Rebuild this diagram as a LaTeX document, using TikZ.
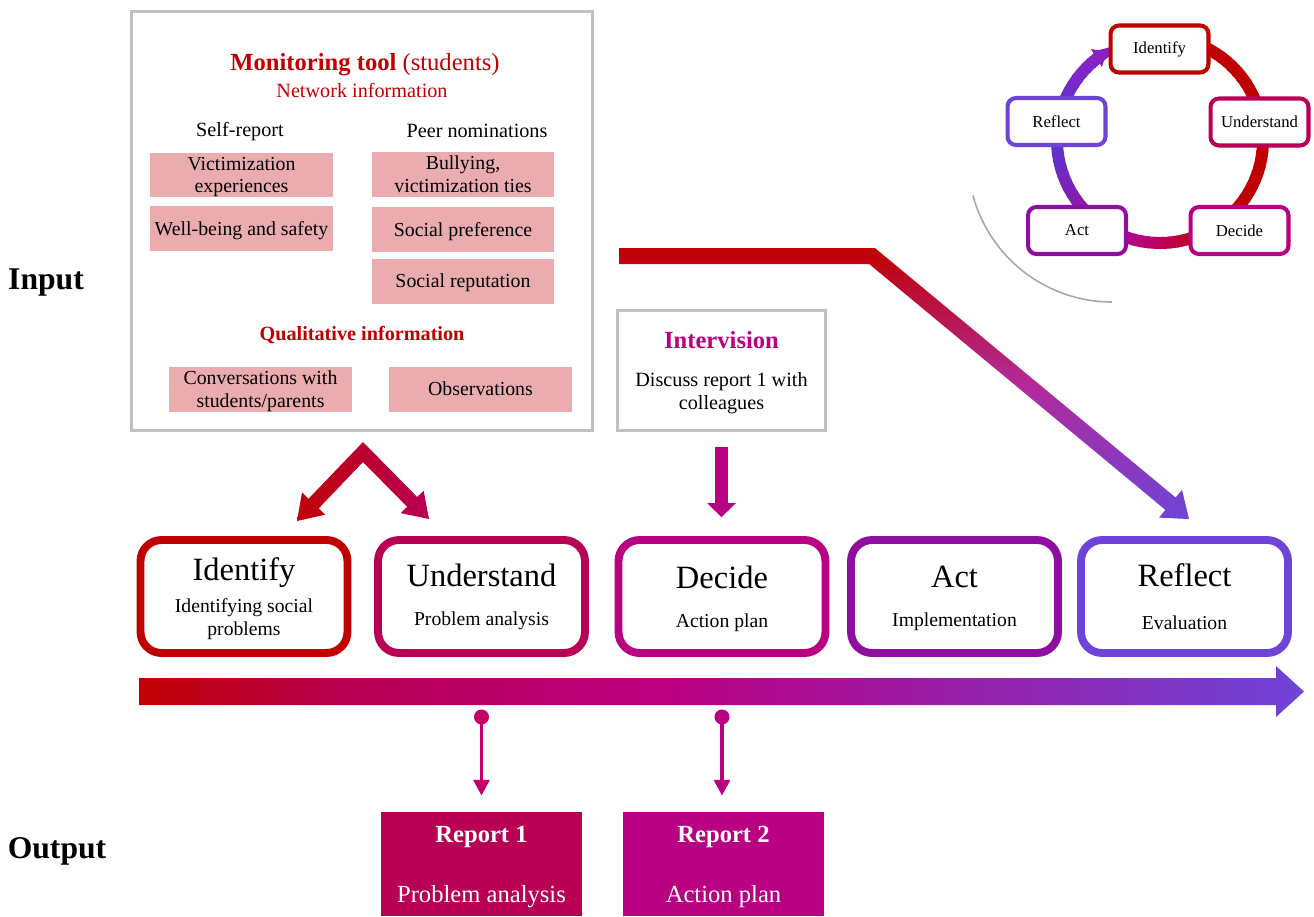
\documentclass[tikz,border=0pt]{standalone}
\usepackage{fontspec}
\setmainfont{Liberation Serif}
\usepackage{tikz}
\usetikzlibrary{arrows.meta, calc}
\definecolor{cRed}{RGB}{192,0,0}
\definecolor{cUnd}{RGB}{184,0,84}
\definecolor{cDec}{RGB}{186,0,130}
\definecolor{cAct}{RGB}{142,14,160}
\definecolor{cRefl}{RGB}{110,68,216}
\definecolor{cBlue}{RGB}{86,54,212}
\definecolor{cViol}{RGB}{136,34,194}
\definecolor{cMid}{RGB}{178,42,154}
\definecolor{cPin}{RGB}{196,0,104}
\definecolor{cRose}{RGB}{234,172,174}
\definecolor{cGrey}{RGB}{192,192,192}
\definecolor{cArc}{RGB}{168,168,168}
\pgfdeclarehorizontalshading{timeline}{100bp}{color(0bp)=(cRed); color(25bp)=(cRed); color(34bp)=(cUnd); color(48bp)=(cDec); color(75bp)=(cRefl); color(100bp)=(cRefl)}
\tikzstyle{frame} = [draw=cGrey, line width=1.7pt]
\tikzstyle{item} = [
	fill=cRose,
	minimum width=3.66cm,
	minimum height=0.9cm,
	align=center,
	inner sep=1pt,
	text depth=0pt,
	font=\fontsize{11.3}{13}\selectfont
]
\tikzstyle{stepbox} = [
	draw,
	line width=4.5pt,
	rounded corners=0.42cm,
	minimum width=4.14cm,
	minimum height=2.26cm,
	align=center,
	font=\fontsize{11.2}{13}\selectfont
]
\tikzstyle{cycbox} = [
	draw,
	line width=2.3pt,
	rounded corners=0.17cm,
	fill=white,
	minimum width=1.96cm,
	minimum height=0.94cm,
	font=\fontsize{9.5}{11}\selectfont
]
\tikzstyle{report} = [minimum width=4.02cm, minimum height=2.08cm, text=white, text depth=-5.6pt, align=center, font=\fontsize{14}{16}\selectfont]
\tikzstyle{seg} = [line width=6.8pt]
\tikzstyle{pin} = [line width=2pt, {Circle[length=8.5pt]}-{Triangle[length=9pt,width=9pt]}]
\tikzstyle{bigarrow} = [line width=7.9pt, -{Triangle[length=8pt,width=16.5pt,line width=0pt]}]
\tikzstyle{side} = [font=\fontsize{18}{20}\selectfont\bfseries]
\newcommand{\steptitle}[1]{{\fontsize{18.5}{20}\selectfont #1}}

\begin{document}
\begin{tikzpicture}[x=0.02cm, y=-0.02cm]
    \useasboundingbox (0,0) rectangle (1314,916);
    % monitoring tool
    \node[frame, minimum width=9.22cm, minimum height=8.38cm] at (362,221) (monitor) {};
    \node[text=cRed, font=\fontsize{14}{16}\selectfont] at (365,65) (titleA) {\textbf{Monitoring tool} (students)};
    \node[text=cRed, font=\fontsize{11.5}{13}\selectfont] at (362,90) (titleB) {Network information};
    \node[font=\fontsize{11.5}{13}\selectfont] at (240,132) (headA) {Self-report};
    \node[font=\fontsize{11.5}{13}\selectfont] at (477,131) (headB) {Peer nominations};
    \node[item] at (241.5,175) (itemA) {Victimization\\experiences};
    \node[item] at (241.5,228.5) (itemB) {Well-being and safety};
    \node[item] at (463,174.5) (itemC) {Bullying,\\victimization ties};
    \node[item] at (463,229.5) (itemD) {Social preference};
    \node[item] at (463,281) (itemE) {Social reputation};
    \node[text=cRed, font=\fontsize{11.5}{13}\selectfont\bfseries] at (362,335) (titleC) {Qualitative information};
    \node[item] at (260.5,389) (itemF) {Conversations with\\students/parents};
    \node[item] at (480.5,389) (itemG) {Observations};
    \node[side] at (46,283) (labelIn) {Input};
    \node[side] at (57,851) (labelOut) {Output};
    % intervision
    \node[frame, minimum width=4.16cm, minimum height=2.4cm, align=center, text depth=0.2pt, font=\fontsize{11.5}{13}\selectfont] at (721.5,370.5) (inter) {{\color{cDec}\bfseries\fontsize{14}{16}\selectfont Intervision}\\[8.5pt]Discuss report 1 with\\colleagues};
    % steps
    \node[stepbox, draw=cRed, text depth=-6.6pt] at (244,596.5) (boxA) {\steptitle{Identify}\\[5pt]Identifying social\\problems};
    \node[stepbox, draw=cUnd] at (481.5,596.5) (boxB) {\steptitle{Understand}\\[9.3pt]Problem analysis};
    \node[stepbox, draw=cDec, text depth=-0.6pt] at (722,596.5) (boxC) {\steptitle{Decide}\\[9.3pt]Action plan};
    \node[stepbox, draw=cAct, text depth=-0.6pt] at (954.5,596.5) (boxD) {\steptitle{Act}\\[9.3pt]Implementation};
    \node[stepbox, draw=cRefl, text depth=-1.7pt] at (1184.5,596.5) (boxE) {\steptitle{Reflect}\\[11.3pt]Evaluation};
    % time line and block arrows
    \shade[shading=timeline] (139,678) -- (1276,678) -- (1276,666) -- (1304,691.5) -- (1276,717) -- (1276,705) -- (139,705) -- cycle;
    \shade[top color=cRed, bottom color=cRefl, middle color=cMid] (619,248) -- (874.9,248) -- (1175.6,497.5) -- (1182,489.8) -- (1189,519) -- (1159,517.6) -- (1165.4,509.9) -- (869.1,264) -- (619,264) -- cycle;
    \shade[left color=cRed!90!cUnd, right color=cUnd] (363,442) -- (417.2,497) -- (423.6,490.7) -- (429,519) -- (400.8,513.1) -- (407.2,506.8) -- (363,462) -- (318.7,508.4) -- (325.2,514.7) -- (297,521) -- (302,492.5) -- (308.5,498.8) -- cycle;
    \draw[bigarrow, cDec] ($(inter.south)+(0,15)$) -- ($(inter.south |- boxC.north)+(0,-19)$);
    % output
    \node[report, fill=cUnd] at (481.5,864) (repA) {\textbf{Report 1}\\[18pt]Problem analysis};
    \node[report, fill=cDec] at (723.5,864) (repB) {\textbf{Report 2}\\[18pt]Action plan};
    \coordinate (pinA) at (481.5,709.5);
    \coordinate (pinB) at (722,709.5);
    \draw[pin, cPin] (pinA) -- ($(pinA |- repA.north)+(0,-16)$);
    \draw[pin, cDec] (pinB) -- ($(pinB |- repB.north)+(0,-16)$);
    % cycle
    \draw[line width=0.9pt, cArc] (1112,158) ++(165:144) arc[start angle=165, end angle=90, radius=144];
    \begin{scope}[shift={(1160,140)}]
      \foreach \a in {-70,-66,...,56}
        \draw[seg, cRed] (\a:103) arc[start angle=\a, delta angle=5, radius=103];
      \foreach \a in {60,64,...,96} {
        \pgfmathtruncatemacro{\p}{(\a-60)*2.5}
        \draw[seg, cDec!\p!cRed] (\a:103) arc[start angle=\a, delta angle=5, radius=103];
      }
      \foreach \a in {100,104,...,176} {
        \pgfmathtruncatemacro{\p}{(\a-100)*1.25}
        \draw[seg, cBlue!\p!cDec] (\a:103) arc[start angle=\a, delta angle=5, radius=103];
      }
      \foreach \a in {180,184,...,228} {
        \pgfmathtruncatemacro{\p}{(\a-180)*2}
        \draw[seg, cViol!\p!cBlue] (\a:103) arc[start angle=\a, delta angle=5, radius=103];
      }
      \draw[seg, cViol, -{Triangle[length=7pt,width=12pt,line width=0pt]}] (232:103) arc[start angle=232, delta angle=7, radius=103];
    \end{scope}
    \node[cycbox, draw=cRed] at (1159.5,49) (cycA) {Identify};
    \node[cycbox, draw=cUnd] at (1259.5,122) (cycB) {Understand};
    \node[cycbox, draw=cDec] at (1239.5,230.5) (cycC) {Decide};
    \node[cycbox, draw=cAct] at (1077,230.5) (cycD) {Act};
    \node[cycbox, draw=cRefl] at (1056.5,121.5) (cycE) {Reflect};
\end{tikzpicture}
\end{document}
